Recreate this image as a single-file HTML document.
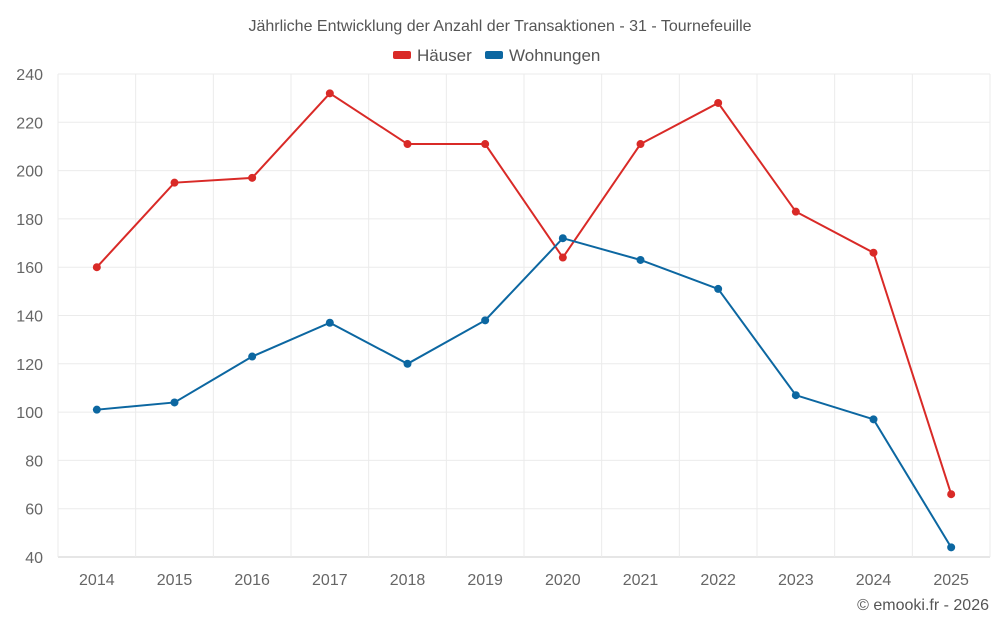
<!DOCTYPE html>
<html><head><meta charset="utf-8"><style>
body{margin:0;background:#fff;font-family:"Liberation Sans",Roboto,sans-serif}
svg text{font-family:"Liberation Sans",sans-serif}
</style></head><body>
<svg id="chart" width="1000" height="625" viewBox="0 0 1000 625" xmlns="http://www.w3.org/2000/svg">
<text x="500" y="31" text-anchor="middle" font-size="16" fill="#555">Jährliche Entwicklung der Anzahl der Transaktionen - 31 - Tournefeuille</text>
<g>
<g><rect x="393" y="51" width="18" height="8" rx="2" fill="#d92a27"/><text x="417" y="61" font-size="17" fill="#555">Häuser</text></g>
<g><rect x="485" y="51" width="18" height="8" rx="2" fill="#0c67a1"/><text x="509" y="61" font-size="17" fill="#555">Wohnungen</text></g>
</g>
<g id="grid"></g><g id="axes"></g><g id="series"></g>
<text x="989" y="610" text-anchor="end" font-size="16" fill="#555">© emooki.fr - 2026</text>
</svg>
<script>
const categories=["2014","2015","2016","2017","2018","2019","2020","2021","2022","2023","2024","2025"];
const haeuser=[160,195,197,232,211,211,164,211,228,183,166,66];
const wohnungen=[101,104,123,137,120,138,172,163,151,107,97,44];
const yTicks=[40,60,80,100,120,140,160,180,200,220,240];
const NS="http://www.w3.org/2000/svg";
const L=58,R=990,T=74,B=557,yMin=40,yMax=240;
const band=(R-L)/categories.length;
const x=i=>L+band*(i+0.5);
const y=v=>B-(v-yMin)/(yMax-yMin)*(B-T);
function mk(tag,attrs,parent){const e=document.createElementNS(NS,tag);for(const k in attrs)e.setAttribute(k,attrs[k]);parent.appendChild(e);return e;}
const grid=document.getElementById('grid'),axes=document.getElementById('axes'),ser=document.getElementById('series');
yTicks.forEach(t=>{
 const l=mk('line',{x1:L,x2:R,y1:y(t),y2:y(t),stroke:t===yMin?'#ccc':'#ebebeb','stroke-width':1},grid);
 
 
 const tx=mk('text',{x:L-15,y:y(t)+6,'text-anchor':'end','font-size':16,fill:'#666'},axes);
 tx.textContent=t;
 
 
});
for(let i=0;i<=categories.length;i++){
 const gx=L+band*i;
 const l=mk('line',{x1:gx,x2:gx,y1:T,y2:B+(i===0||i===categories.length?0:0),stroke:'#ebebeb','stroke-width':1},grid);
 
 
}
categories.forEach((c,i)=>{
 const tx=mk('text',{x:x(i),y:585,'text-anchor':'middle','font-size':16,fill:'#666'},axes);
 tx.textContent=c;
 
 
});
function drawSeries(vals,color,name){
 const g=mk('g',{},ser);
 
 
 const p=mk('polyline',{points:vals.map((v,i)=>x(i)+','+y(v)).join(' '),fill:'none',stroke:color,'stroke-width':2},g);
 
 
 vals.forEach((v,i)=>{
  const c=mk('circle',{cx:x(i),cy:y(v),r:4,fill:color},g);
  
  
 });
}
drawSeries(haeuser,'#d92a27','haeuser');
drawSeries(wohnungen,'#0c67a1','wohnungen');
</script>
</body></html>
